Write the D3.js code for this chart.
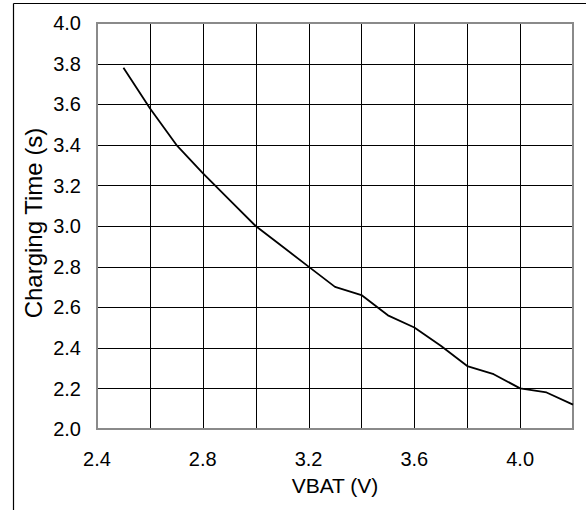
<!DOCTYPE html>
<html>
<head>
<meta charset="utf-8">
<script src="https://cdn.jsdelivr.net/npm/d3@7"></script>
<style>
  html, body { margin: 0; padding: 0; background: #fff; }
  svg { display: block; }
  text { font-family: "Liberation Sans", Arial, sans-serif; fill: #000; }
</style>
</head>
<body>
<script>
// Data
const vbat = [2.5, 2.6, 2.7, 2.8, 2.9, 3.0, 3.1, 3.2, 3.3, 3.4, 3.5, 3.6, 3.7, 3.8, 3.9, 4.0, 4.1, 4.2];
const chargingTime = [3.78, 3.58, 3.40, 3.26, 3.13, 3.00, 2.90, 2.80, 2.70, 2.66, 2.56, 2.50, 2.41, 2.31, 2.27, 2.20, 2.18, 2.12];
const xTickLabels = [2.4, 2.8, 3.2, 3.6, 4.0];
const xGrid = [2.4, 2.6, 2.8, 3.0, 3.2, 3.4, 3.6, 3.8, 4.0, 4.2];
const yTickLabels = [2.0, 2.2, 2.4, 2.6, 2.8, 3.0, 3.2, 3.4, 3.6, 3.8, 4.0];
const xTitle = "VBAT (V)";
const yTitle = "Charging Time (s)";

const W = 586, H = 510;
const plot = { left: 97, top: 23, right: 573, bottom: 429 };

const svg = d3.select("body").append("svg").attr("width", W).attr("height", H);

// outer frame (top and left edges visible)
svg.append("line").attr("x1", 13.5).attr("x2", W + 5).attr("y1", 3.5).attr("y2", 3.5)
  .attr("stroke", "#000").attr("stroke-width", 1.2);
svg.append("line").attr("x1", 13.5).attr("x2", 13.5).attr("y1", 3.5).attr("y2", H + 5)
  .attr("stroke", "#000").attr("stroke-width", 1.2);

const x = d3.scaleLinear().domain([2.4, 4.2]).range([plot.left, plot.right]);
const y = d3.scaleLinear().domain([2.0, 4.0]).range([plot.bottom, plot.top]);

// grid
const g = svg.append("g");
g.selectAll(".vg").data(xGrid).join("line")
  .attr("x1", d => Math.round(x(d)) + 0.5).attr("x2", d => Math.round(x(d)) + 0.5)
  .attr("y1", plot.top).attr("y2", plot.bottom)
  .attr("stroke", "#000").attr("stroke-width", 1);
g.selectAll(".hg").data(yTickLabels).join("line")
  .attr("x1", plot.left).attr("x2", plot.right)
  .attr("y1", d => Math.round(y(d)) + 0.5).attr("y2", d => Math.round(y(d)) + 0.5)
  .attr("stroke", "#000").attr("stroke-width", 1);

// plot border
svg.append("rect")
  .attr("x", plot.left).attr("y", plot.top)
  .attr("width", plot.right - plot.left).attr("height", plot.bottom - plot.top)
  .attr("fill", "none").attr("stroke", "#8a8a8a").attr("stroke-width", 2);

// line
const line = d3.line().x((d, i) => x(vbat[i])).y(d => y(d));
svg.append("path").datum(chargingTime)
  .attr("d", line).attr("fill", "none").attr("stroke", "#000").attr("stroke-width", 1.8)
  .attr("stroke-linejoin", "round");

// tick labels
svg.selectAll(".xt").data(xTickLabels).join("text")
  .attr("x", d => x(d)).attr("y", 466)
  .attr("text-anchor", "middle").attr("font-size", 20)
  .text(d => d.toFixed(1));
svg.selectAll(".yt").data(yTickLabels).join("text")
  .attr("x", 81).attr("y", d => y(d)).attr("dy", "0.36em")
  .attr("text-anchor", "end").attr("font-size", 20)
  .text(d => d.toFixed(1));

// axis titles
svg.append("text").attr("x", (plot.left + plot.right) / 2).attr("y", 493)
  .attr("text-anchor", "middle").attr("font-size", 21).text(xTitle);
svg.append("text")
  .attr("transform", "translate(42,223) rotate(-90)")
  .attr("text-anchor", "middle").attr("font-size", 24).text(yTitle);
</script>
</body>
</html>
